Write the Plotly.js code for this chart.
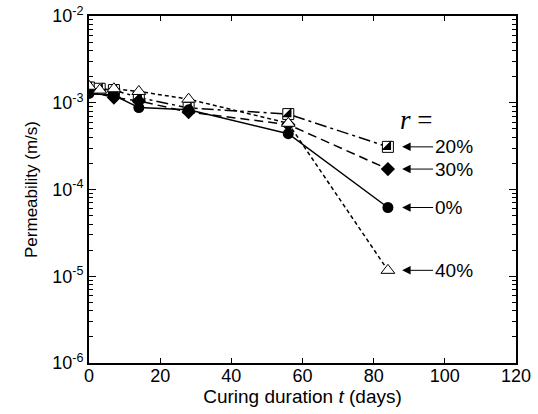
<!DOCTYPE html>
<html>
<head>
<meta charset="utf-8">
<script src="https://cdn.plot.ly/plotly-3.0.1.min.js"></script>
<style>html,body{margin:0;padding:0;background:#fff;}#chart{width:538px;height:414px;}</style>
</head>
<body>
<div id="chart"></div>
<script>
const days0  = [0, 7, 14, 28, 56, 84];
const perm0  = [1.28e-3, 1.22e-3, 8.8e-4, 8.3e-4, 4.4e-4, 6.2e-5];
const days20 = [0, 3, 7, 14, 28, 56, 84];
const perm20 = [1.5e-3, 1.45e-3, 1.4e-3, 1.15e-3, 8.7e-4, 7.4e-4, 3.1e-4];
const days30 = [0, 7, 14, 28, 56, 84];
const perm30 = [1.35e-3, 1.15e-3, 1.05e-3, 7.8e-4, 5.6e-4, 1.72e-4];
const days40 = [0, 3, 7, 14, 28, 56, 84];
const perm40 = [1.55e-3, 1.4e-3, 1.45e-3, 1.35e-3, 1.1e-3, 5.8e-4, 1.17e-5];
const labels = ["20%", "30%", "0%", "40%"];
const labelEnds = [perm20[6], perm30[5], perm0[5], perm40[6]];
const yTickVals = [1e-6, 1e-5, 1e-4, 1e-3, 1e-2];
const yTickText = ["10<sup>-6</sup>", "10<sup>-5</sup>", "10<sup>-4</sup>", "10<sup>-3</sup>", "10<sup>-2</sup>"];
const minorMultipliers = [2, 3, 4, 5, 6, 7, 8, 9];
const decades = [1e-6, 1e-5, 1e-4, 1e-3];

const yMinorTicks = [];
decades.forEach(d => minorMultipliers.forEach(m => yMinorTicks.push(m * d)));

const FONT = "Liberation Sans, Arial, sans-serif";

const traces = [
  {x: days20, y: perm20, mode: "lines+markers", line: {color: "#000", width: 1.5, dash: "12px,4px,3px,4px"},
   marker: {symbol: "square", size: 11, color: "#fff", line: {color: "#000", width: 1}}},
  {x: days20, y: perm20, mode: "markers",
   marker: {symbol: "triangle-se", size: 10.5, color: "#000", line: {width: 0}}},
  {x: days30, y: perm30, mode: "lines+markers", line: {color: "#000", width: 1.5, dash: "9px,5px"},
   marker: {symbol: "diamond", size: 11, color: "#000"}},
  {x: days0, y: perm0, mode: "lines+markers", line: {color: "#000", width: 1.5},
   marker: {symbol: "circle", size: 11, color: "#000"}},
  {x: days40, y: perm40, mode: "lines+markers", line: {color: "#000", width: 1.5, dash: "4px,3px"},
   marker: {symbol: "triangle-up", size: 12, color: "#fff", line: {color: "#000", width: 1}}},
  {x: [], y: [], yaxis: "y2", mode: "markers", hoverinfo: "skip"}
];

const annotations = labels.map((t, i) => ({
  x: 88, y: Math.log10(labelEnds[i]), xref: "x", yref: "y",
  text: t, showarrow: true, ax: 31, ay: 0, xanchor: "left",
  arrowhead: 2, arrowsize: 1.7, arrowwidth: 1, arrowcolor: "#000",
  font: {family: FONT, size: 19, color: "#000"}
}));
annotations.push({
  x: 92, y: Math.log10(6.3e-4), xref: "x", yref: "y", showarrow: false,
  text: "<i>r</i> =", font: {family: "Liberation Serif, Times New Roman, serif", size: 27, color: "#000"}
});

const layout = {
  width: 538, height: 414,
  margin: {l: 89, r: 22, t: 16, b: 51},
  paper_bgcolor: "#fff", plot_bgcolor: "#fff",
  showlegend: false,
  font: {family: FONT, size: 18, color: "#000"},
  xaxis: {
    range: [0, 120], dtick: 20, tick0: 0, showgrid: false, zeroline: false,
    showline: true, linecolor: "#000", linewidth: 2, mirror: "ticks",
    ticks: "inside", ticklen: 5, tickwidth: 1, tickcolor: "#000",
    ticklabelstandoff: -5,
    tickfont: {family: FONT, size: 18},
    title: {text: "Curing duration <i>t</i> (days)", font: {family: FONT, size: 19}, standoff: 0}
  },
  yaxis: {
    type: "log", range: [-6, -2], tickvals: yTickVals, ticktext: yTickText,
    showgrid: false, zeroline: false,
    showline: true, linecolor: "#000", linewidth: 2, mirror: "ticks",
    ticks: "inside", ticklen: 7, tickwidth: 1, tickcolor: "#000",
    tickfont: {family: FONT, size: 18},
    title: {text: "Permeability (m/s)", font: {family: FONT, size: 17}, standoff: 10}
  },
  yaxis2: {
    type: "log", range: [-6, -2], overlaying: "y", side: "left",
    tickvals: yMinorTicks, showticklabels: false,
    showgrid: false, zeroline: false,
    showline: true, linecolor: "#000", linewidth: 2, mirror: "ticks",
    ticks: "inside", ticklen: 4, tickwidth: 1, tickcolor: "#000"
  },
  annotations: annotations
};

Plotly.newPlot("chart", traces, layout, {displayModeBar: false, staticPlot: true});
</script>
</body>
</html>
